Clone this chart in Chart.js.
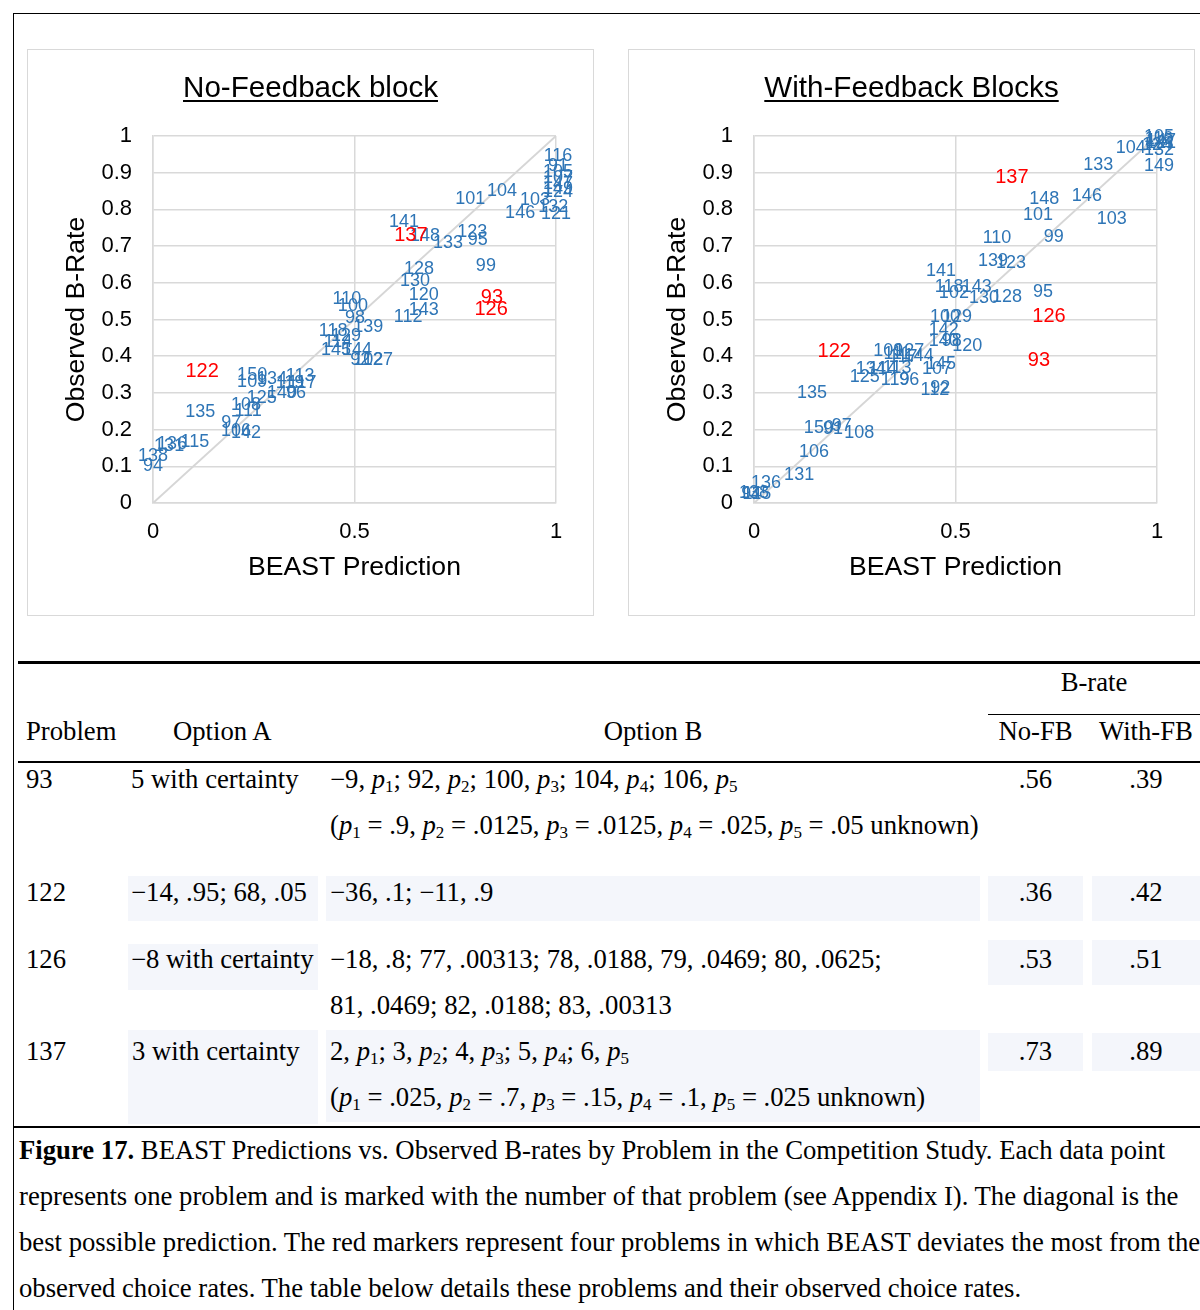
<!DOCTYPE html>
<html>
<head>
<meta charset="utf-8">
<script src="https://cdn.jsdelivr.net/npm/chart.js@4.4.1/dist/chart.umd.min.js"></script>
<style>
  body { margin: 0; background: #fff; }
  #page { position: relative; width: 1200px; height: 1310px; overflow: hidden; background: #fff; }
  .panel { position: absolute; top: 49px; width: 567px; height: 567px; border: 1px solid #d9d9d9; box-sizing: border-box; }
  .panel canvas { position: absolute; left: 0; top: 0; }
  .ptitle { position: absolute; top: 69px; width: 567px; text-align: center; font: 29.6px "Liberation Sans", Arial, sans-serif; line-height: 36px; text-decoration: underline; text-underline-offset: 3px; color: #000; }
  .rule { position: absolute; background: #000; }
  .t { position: absolute; font: 26.7px "Liberation Serif", "Times New Roman", serif; line-height: 30px; white-space: nowrap; color: #000; }
  .c { text-align: center; }
  .shade { position: absolute; background: #f4f6fb; }
  .t sub { font-size: 17px; vertical-align: -4px; line-height: 0; }
  .cap { position: absolute; left: 19px; font: 26.7px "Liberation Serif", "Times New Roman", serif; line-height: 30px; white-space: nowrap; }
</style>
</head>
<body>
<div id="page">
  <div class="rule" style="left:13px;top:13px;width:1187px;height:1px"></div>
  <div class="rule" style="left:13px;top:13px;width:1px;height:1297px"></div>

  <div class="panel" style="left:27px"><canvas id="noFb" width="565" height="565"></canvas></div>
  <div class="panel" style="left:628px"><canvas id="withFb" width="565" height="565"></canvas></div>
  <div class="ptitle" style="left:27px">No-Feedback block</div>
  <div class="ptitle" style="left:628px">With-Feedback Blocks</div>

  <div class="rule" style="left:18px;top:661px;width:1182px;height:3px"></div>
  <div class="t c" style="left:988px;top:667px;width:212px">B-rate</div>
  <div class="rule" style="left:988px;top:714px;width:212px;height:1px"></div>
  <div class="t" style="left:26px;top:716px">Problem</div>
  <div class="t" style="left:173px;top:716px">Option A</div>
  <div class="t c" style="left:326px;top:716px;width:654px">Option B</div>
  <div class="t c" style="left:988px;top:716px;width:95px">No-FB</div>
  <div class="t c" style="left:1092px;top:716px;width:108px">With-FB</div>
  <div class="rule" style="left:18px;top:761px;width:1182px;height:2px"></div>

  <div class="shade" style="left:128px;top:876px;width:190px;height:45px"></div>
  <div class="shade" style="left:326px;top:876px;width:654px;height:45px"></div>
  <div class="shade" style="left:988px;top:876px;width:95px;height:45px"></div>
  <div class="shade" style="left:1092px;top:876px;width:108px;height:45px"></div>
  <div class="shade" style="left:128px;top:944px;width:190px;height:46px"></div>
  <div class="shade" style="left:988px;top:940px;width:95px;height:45px"></div>
  <div class="shade" style="left:1092px;top:940px;width:108px;height:45px"></div>
  <div class="shade" style="left:128px;top:1030px;width:190px;height:94px"></div>
  <div class="shade" style="left:326px;top:1030px;width:654px;height:92px"></div>
  <div class="shade" style="left:988px;top:1033px;width:95px;height:38px"></div>
  <div class="shade" style="left:1092px;top:1033px;width:108px;height:38px"></div>

  <div class="t" style="left:26px;top:764px">93</div>
  <div class="t" style="left:131px;top:764px">5 with certainty</div>
  <div class="t" style="left:330px;top:764px">−9, <i>p</i><sub>1</sub>; 92, <i>p</i><sub>2</sub>; 100, <i>p</i><sub>3</sub>; 104, <i>p</i><sub>4</sub>; 106, <i>p</i><sub>5</sub></div>
  <div class="t" style="left:330px;top:810px">(<i>p</i><sub>1</sub> = .9, <i>p</i><sub>2</sub> = .0125, <i>p</i><sub>3</sub> = .0125, <i>p</i><sub>4</sub> = .025, <i>p</i><sub>5</sub> = .05 unknown)</div>
  <div class="t c" style="left:988px;top:764px;width:95px">.56</div>
  <div class="t c" style="left:1092px;top:764px;width:108px">.39</div>

  <div class="t" style="left:26px;top:877px">122</div>
  <div class="t" style="left:131px;top:877px">−14, .95; 68, .05</div>
  <div class="t" style="left:330px;top:877px">−36, .1; −11, .9</div>
  <div class="t c" style="left:988px;top:877px;width:95px">.36</div>
  <div class="t c" style="left:1092px;top:877px;width:108px">.42</div>

  <div class="t" style="left:26px;top:944px">126</div>
  <div class="t" style="left:131px;top:944px">−8 with certainty</div>
  <div class="t" style="left:330px;top:944px">−18, .8; 77, .00313; 78, .0188, 79, .0469; 80, .0625;</div>
  <div class="t" style="left:330px;top:990px">81, .0469; 82, .0188; 83, .00313</div>
  <div class="t c" style="left:988px;top:944px;width:95px">.53</div>
  <div class="t c" style="left:1092px;top:944px;width:108px">.51</div>

  <div class="t" style="left:26px;top:1036px">137</div>
  <div class="t" style="left:132px;top:1036px">3 with certainty</div>
  <div class="t" style="left:330px;top:1036px">2, <i>p</i><sub>1</sub>; 3, <i>p</i><sub>2</sub>; 4, <i>p</i><sub>3</sub>; 5, <i>p</i><sub>4</sub>; 6, <i>p</i><sub>5</sub></div>
  <div class="t" style="left:330px;top:1082px">(<i>p</i><sub>1</sub> = .025, <i>p</i><sub>2</sub> = .7, <i>p</i><sub>3</sub> = .15, <i>p</i><sub>4</sub> = .1, <i>p</i><sub>5</sub> = .025 unknown)</div>
  <div class="t c" style="left:988px;top:1036px;width:95px">.73</div>
  <div class="t c" style="left:1092px;top:1036px;width:108px">.89</div>

  <div class="rule" style="left:13px;top:1126px;width:1187px;height:2px"></div>

  <div class="cap" style="top:1135px"><b>Figure 17.</b> BEAST Predictions vs. Observed B-rates by Problem in the Competition Study. Each data point</div>
  <div class="cap" style="top:1181px">represents one problem and is marked with the number of that problem (see Appendix I). The diagonal is the</div>
  <div class="cap" style="top:1227px">best possible prediction. The red markers represent four problems in which BEAST deviates the most from the</div>
  <div class="cap" style="top:1273px">observed choice rates. The table below details these problems and their observed choice rates.</div>
</div>

<script>
// problems highlighted in red
const redIds = [93, 122, 126, 137];

// No-Feedback block: problem number, BEAST prediction, observed B-rate
const noFbIds = [116, 91, 105, 107, 147, 149, 124, 103, 132, 121, 146, 104, 101, 141, 137, 148, 133, 123, 95,
  128, 130, 99, 120, 143, 93, 126, 110, 100, 98, 112, 139, 118, 129, 114, 145, 144, 92, 102, 127,
  122, 150, 109, 134, 113, 119, 117, 125, 140, 96, 135, 108, 111, 97, 106, 142, 136, 131, 115, 138, 94];
const noFbPred = [1.005, 1.005, 1.005, 1.005, 1.005, 1.005, 1.005, 0.948, 0.993, 1.0, 0.911, 0.866, 0.787, 0.623, 0.640, 0.675, 0.732, 0.792, 0.806,
  0.660, 0.650, 0.826, 0.672, 0.672, 0.841, 0.839, 0.481, 0.496, 0.501, 0.633, 0.534, 0.447, 0.479, 0.459, 0.454, 0.506, 0.514, 0.534, 0.558,
  0.122, 0.246, 0.246, 0.295, 0.365, 0.340, 0.370, 0.270, 0.320, 0.355, 0.117, 0.231, 0.236, 0.194, 0.206, 0.231, 0.047, 0.040, 0.104, 0.0, 0.0];
const noFbObs = [0.946, 0.918, 0.902, 0.886, 0.869, 0.856, 0.847, 0.826, 0.807, 0.787, 0.790, 0.850, 0.828, 0.766, 0.728, 0.728, 0.708, 0.738, 0.717,
  0.638, 0.605, 0.646, 0.567, 0.526, 0.559, 0.526, 0.556, 0.537, 0.504, 0.507, 0.480, 0.469, 0.455, 0.439, 0.417, 0.417, 0.390, 0.390, 0.390,
  0.357, 0.349, 0.330, 0.338, 0.346, 0.327, 0.327, 0.286, 0.300, 0.300, 0.248, 0.267, 0.251, 0.218, 0.196, 0.191, 0.161, 0.155, 0.166, 0.128, 0.101];

// With-Feedback blocks
const fbIds = [105, 116, 147, 121, 124, 132, 104, 149, 133, 137, 148, 146, 101, 103, 110, 99, 139, 123, 141, 143,
  118, 102, 130, 128, 95, 126, 100, 129, 142, 140, 98, 120, 93, 145, 107, 144, 112, 92,
  122, 109, 111, 127, 117, 134, 114, 113, 125, 119, 96, 135, 150, 91, 97, 108, 106, 131, 136, 138, 94, 115];
const fbPred = [1.005, 1.005, 1.010, 1.010, 1.0, 1.005, 0.935, 1.005, 0.854, 0.640, 0.720, 0.826, 0.705, 0.888, 0.603, 0.744, 0.593, 0.638, 0.464, 0.553,
  0.484, 0.496, 0.571, 0.628, 0.717, 0.732, 0.474, 0.504, 0.471, 0.471, 0.491, 0.529, 0.707, 0.464, 0.454, 0.409, 0.449, 0.462,
  0.199, 0.333, 0.355, 0.385, 0.370, 0.290, 0.320, 0.355, 0.275, 0.350, 0.385, 0.144, 0.161, 0.196, 0.218, 0.261, 0.149, 0.112, 0.030, 0.0, -0.007, 0.007];
const fbObs = [0.997, 0.992, 0.986, 0.981, 0.975, 0.962, 0.967, 0.918, 0.921, 0.888, 0.828, 0.837, 0.785, 0.774, 0.722, 0.725, 0.659, 0.654, 0.632, 0.589,
  0.589, 0.572, 0.559, 0.561, 0.575, 0.507, 0.507, 0.507, 0.471, 0.441, 0.441, 0.428, 0.387, 0.379, 0.365, 0.401, 0.308, 0.313,
  0.414, 0.414, 0.406, 0.414, 0.398, 0.365, 0.365, 0.368, 0.343, 0.335, 0.335, 0.300, 0.204, 0.202, 0.210, 0.191, 0.139, 0.076, 0.054, 0.027, 0.025, 0.025];

const xTicks = [0, 0.5, 1];
const gridColor = '#d9d9d9';
const sans = 'Liberation Sans, Arial, sans-serif';
const fmt = v => String(Number(v.toFixed(2)));

// draws the problem numbers at each point (no markers)
const numberLabels = {
  id: 'numberLabels',
  afterDatasetsDraw(chart) {
    const ctx = chart.ctx;
    const ds = chart.data.datasets[1];
    const meta = chart.getDatasetMeta(1);
    ctx.save();
    ctx.textAlign = 'center';
    ctx.textBaseline = 'middle';
    // blue first, red on top
    [false, true].forEach(pass => {
      meta.data.forEach((pt, i) => {
        const red = redIds.includes(ds.ids[i]);
        if (red !== pass) return;
        ctx.font = (red ? '20px ' : '18px ') + sans;
        ctx.fillStyle = red ? '#ff0000' : '#2e75b6';
        ctx.fillText(String(ds.ids[i]), pt.x, pt.y);
      });
    });
    ctx.restore();
  }
};

function makeChart(id, ids, xs, ys) {
  const pts = ids.map((n, i) => ({ x: xs[i], y: ys[i] }));
  return new Chart(document.getElementById(id), {
    type: 'scatter',
    data: {
      datasets: [
        {
          type: 'line',
          data: [{ x: 0, y: 0 }, { x: 1, y: 1 }],
          borderColor: '#d6d6d6',
          borderWidth: 2,
          pointRadius: 0
        },
        {
          data: pts,
          ids: ids,
          pointRadius: 0,
          clip: false
        }
      ]
    },
    options: {
      responsive: false,
      animation: false,
      layout: { padding: { top: 86, right: 37, left: 0, bottom: 0 } },
      plugins: { legend: { display: false }, tooltip: { enabled: false } },
      scales: {
        x: {
          type: 'linear', min: 0, max: 1,
          afterBuildTicks: s => { s.ticks = xTicks.map(v => ({ value: v })); },
          afterFit: s => { s.height = 112; },
          ticks: { padding: 16, color: '#000', font: { family: sans, size: 22 }, callback: fmt },
          grid: { color: gridColor, lineWidth: 1.5, drawTicks: false },
          border: { color: gridColor, width: 1.5 },
          title: { display: true, text: 'BEAST Prediction', color: '#000', font: { family: sans, size: 26.6 }, padding: { top: 0, bottom: 31 } }
        },
        y: {
          type: 'linear', min: 0, max: 1,
          afterFit: s => { s.width = 125; },
          ticks: { stepSize: 0.1, padding: 21, color: '#000', font: { family: sans, size: 22 }, callback: fmt },
          grid: { color: gridColor, lineWidth: 1.5, drawTicks: false },
          border: { color: gridColor, width: 1.5 },
          title: { display: true, text: 'Observed B-Rate', color: '#000', font: { family: sans, size: 26.6 }, padding: { top: 33, bottom: 0 } }
        }
      }
    },
    plugins: [numberLabels]
  });
}

makeChart('noFb', noFbIds, noFbPred, noFbObs);
makeChart('withFb', fbIds, fbPred, fbObs);
</script>
</body>
</html>
